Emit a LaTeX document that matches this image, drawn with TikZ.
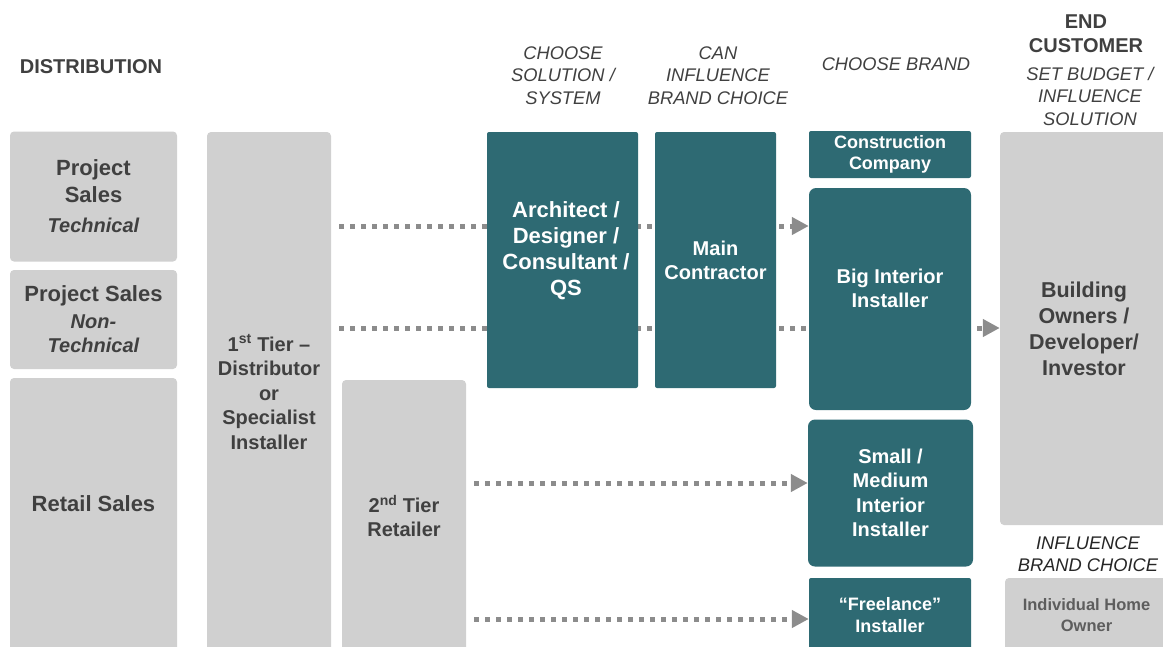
\documentclass[tikz,border=0pt]{standalone}
\usepackage{fontspec}
\setmainfont{Liberation Sans}
\usetikzlibrary{arrows.meta}
\definecolor{boxgray}{HTML}{D0D0D0}
\definecolor{txtgray}{HTML}{404040}
\definecolor{tealbox}{HTML}{2E6A73}
\definecolor{linegray}{HTML}{8C8C8C}
\pgfdeclarelayer{bg}
\pgfsetlayers{bg,main}
\newcommand{\fsz}[2]{\fontsize{#1}{#2}\selectfont}
\tikzset{
  gbox/.style={fill=boxgray, rounded corners=4pt, text=txtgray, align=center, inner sep=0pt,
    font=\bfseries\fsz{20}{24.5}},
  tbox/.style={fill=tealbox, rounded corners=2pt, text=white, align=center, inner sep=0pt,
    font=\bfseries\fsz{20}{24}},
  hdr/.style={text=txtgray, align=center, inner sep=0pt, font=\itshape\fsz{18.3}{22.5}},
  flow/.style={draw=linegray, line width=5pt, dash pattern=on 5pt off 6pt, shorten <=8pt,
    -{Triangle[length=17pt,width=17pt]}}
}
\begin{document}
\begin{tikzpicture}[x=1pt,y=-1pt]
\useasboundingbox (0,0) rectangle (1163,646);
% headers
\node[text=txtgray, inner sep=0pt, font=\bfseries\fsz{20}{24}] (dist) at (91,67) {DISTRIBUTION};
\node[hdr] (h1) at (563,75.5) {CHOOSE\\SOLUTION /\\SYSTEM};
\node[hdr] (h2) at (718,75.5) {CAN\\INFLUENCE\\BRAND CHOICE};
\node[hdr] (h3) at (896,64) {CHOOSE BRAND};
\node[text=txtgray, align=center, inner sep=0pt, font=\bfseries\fsz{20}{24}] (ec) at (1086,34) {END\\CUSTOMER};
\node[hdr] (h4) at (1090,96) {SET BUDGET /\\INFLUENCE\\SOLUTION};
\node[hdr, text=black!85] (h5) at (1088,554) {INFLUENCE\\BRAND CHOICE};
% distribution
\node[gbox, minimum width=167pt, minimum height=130pt, font=\bfseries\fsz{22}{27}] (ps1) at (93.5,196.5)
  {Project\\Sales\\[3pt]{\itshape\fsz{20}{24}Technical}};
\node[gbox, minimum width=167pt, minimum height=99pt, font=\bfseries\fsz{22}{27}] (ps2) at (93.5,319.5)
  {Project Sales\\{\itshape\fsz{20}{24}Non-}\\[-3pt]{\itshape\fsz{20}{24}Technical}};
\node[gbox, minimum width=167pt, minimum height=274pt] (rs) at (93.5,515) {};
\node[text=txtgray, inner sep=0pt, font=\bfseries\fsz{22}{27}] (rst) at (93.5,504) {Retail Sales};
\node[gbox, minimum width=124pt, minimum height=520pt] (t1) at (269,392)
  {1\textsuperscript{st} Tier --\\Distributor\\or\\Specialist\\Installer};
\node[gbox, minimum width=124pt, minimum height=272pt, font=\bfseries\fsz{20}{24}] (t2) at (404,516)
  {2\textsuperscript{nd} Tier\\Retailer};
% specifiers and installers
\node[tbox, minimum width=151pt, minimum height=256pt] (arch) at (562.5,260) {};
\node[text=white, align=center, inner sep=0pt, font=\bfseries\fsz{22}{26}] (archt) at (566,251)
  {Architect /\\Designer /\\Consultant /\\QS};
\node[tbox, minimum width=121pt, minimum height=256pt] (mc) at (715.5,260) {Main\\Contractor};
\node[tbox, minimum width=162pt, minimum height=47pt, font=\bfseries\fsz{18}{21}] (cc) at (890,154.5)
  {Construction\\Company};
\node[tbox, rounded corners=7pt, minimum width=162pt, minimum height=222pt] (bii) at (890,299) {};
\node[text=white, align=center, inner sep=0pt, font=\bfseries\fsz{20}{24}] (biit) at (890,288)
  {Big Interior\\Installer};
\node[tbox, rounded corners=7pt, minimum width=165pt, minimum height=147pt, font=\bfseries\fsz{20}{24.5}] (smi) at (890.5,493)
  {Small /\\Medium\\Interior\\Installer};
\node[tbox, minimum width=162pt, minimum height=74pt, font=\bfseries\fsz{18}{22}] (fl) at (890,615)
  {“Freelance”\\Installer};
% end customers
\node[gbox, minimum width=168pt, minimum height=393pt, font=\bfseries\fsz{21.5}{26}] (bo) at (1084,328.5)
  {Building\\Owners /\\Developer/\\Investor};
\node[gbox, minimum width=163pt, minimum height=74pt, text=txtgray!85, font=\bfseries\fsz{16.5}{21}] (iho) at (1086.5,615)
  {Individual Home\\Owner};
% flows
\begin{pgfonlayer}{bg}
\draw[flow] (t1.east |- 0,226) -- (bii.west |- 0,226);
\draw[flow] (t1.east |- 0,328) -- (bo.west |- 0,328);
\draw[flow] (t2.east |- 0,483) -- (smi.west |- 0,483);
\draw[flow] (t2.east |- 0,619) -- (fl.west |- 0,619);
\end{pgfonlayer}
\end{tikzpicture}
\end{document}
